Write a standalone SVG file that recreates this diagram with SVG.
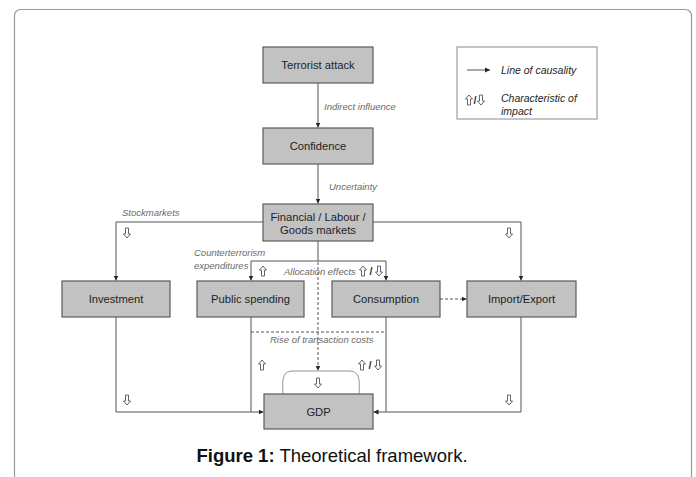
<svg xmlns="http://www.w3.org/2000/svg" width="696" height="477" viewBox="0 0 696 477">
<style>
.box{fill:#c2c2c2;stroke:#5a5a5a;stroke-width:1.2}
.lbl{font-family:"Liberation Sans",Arial,sans-serif;font-size:11.2px;fill:#1e1e1e;text-anchor:middle}
.it{font-family:"Liberation Sans",Arial,sans-serif;font-size:9.5px;font-style:italic;fill:#6a6a6a}
.lg{font-family:"Liberation Sans",Arial,sans-serif;font-size:10.5px;font-style:italic;fill:#1e1e1e}
.sl{font-family:"Liberation Sans",Arial,sans-serif;font-size:11px;font-weight:bold;fill:#333;text-anchor:middle}
.ln{fill:none;stroke:#555;stroke-width:1}
.dl{fill:none;stroke:#555;stroke-width:1;stroke-dasharray:3,2}
.ha{fill:#fff;stroke:#555;stroke-width:0.9;stroke-linejoin:round}
</style>
<defs>
<marker id="ah" markerWidth="6" markerHeight="6" refX="5" refY="3" orient="auto" markerUnits="userSpaceOnUse">
<path d="M0,0.5 L5,3 L0,5.5 Z" fill="#222"/>
</marker>
<path id="up" class="ha" d="M0,-5 L3.5,-1 L1.5,-1 L1.5,5 L-1.5,5 L-1.5,-1 L-3.5,-1 Z"/>
<path id="dn" class="ha" d="M0,5 L3.5,1 L1.5,1 L1.5,-5 L-1.5,-5 L-1.5,1 L-3.5,1 Z"/>
</defs>
<rect x="14.5" y="9.5" width="677" height="480" rx="6" fill="#fff" stroke="#9a9a9a" stroke-width="1.2"/>

<g id="connectors">
<path class="ln" d="M318,83 V127.5" marker-end="url(#ah)"/>
<path class="ln" d="M318,164 V203.5" marker-end="url(#ah)"/>
<path class="ln" d="M263,222 H116 V280.5" marker-end="url(#ah)"/>
<path class="ln" d="M373,222 H521 V280.5" marker-end="url(#ah)"/>
<path class="ln" d="M318,241 V261"/>
<path class="ln" d="M318,261 H251 V280.5" marker-end="url(#ah)"/>
<path class="ln" d="M318,261 H386 V280.5" marker-end="url(#ah)"/>
<path class="dl" d="M318,262 V370.5" marker-end="url(#ah)"/>
<path class="dl" d="M440,299 H466.5" marker-end="url(#ah)"/>
<path class="dl" d="M251,332 H386"/>
<path class="ln" d="M116,317 V412 H263.5" marker-end="url(#ah)"/>
<path class="ln" d="M251,317 V412"/>
<path class="ln" d="M521,317 V412 H373.5" marker-end="url(#ah)"/>
<path class="ln" d="M386,317 V412"/>
<path d="M283,394 Q282,380 284,376 Q286,371 293,371 H349 Q356,371 358,376 Q360,380 359,394" fill="none" stroke="#888" stroke-width="0.9"/>
</g>

<g id="terrorist-attack"><rect class="box" x="263" y="47" width="110" height="36"/><text class="lbl" x="318" y="69">Terrorist attack</text></g>
<g id="confidence"><rect class="box" x="263" y="128" width="110" height="36"/><text class="lbl" x="318" y="150">Confidence</text></g>
<g id="markets"><rect class="box" x="263" y="204" width="110" height="37"/><text class="lbl" x="318" y="221">Financial / Labour /</text><text class="lbl" x="318" y="234">Goods markets</text></g>
<g id="investment"><rect class="box" x="62" y="281" width="108" height="36"/><text class="lbl" x="116" y="303">Investment</text></g>
<g id="public-spending"><rect class="box" x="197" y="281" width="107" height="36"/><text class="lbl" x="250.5" y="303">Public spending</text></g>
<g id="consumption"><rect class="box" x="332" y="281" width="108" height="36"/><text class="lbl" x="386" y="303">Consumption</text></g>
<g id="import-export"><rect class="box" x="467" y="281" width="109" height="36"/><text class="lbl" x="521.5" y="303">Import/Export</text></g>
<g id="gdp"><rect class="box" x="264" y="394" width="109" height="35"/><text class="lbl" x="318.5" y="416">GDP</text></g>

<g id="labels">
<text class="it" x="324" y="109.5">Indirect influence</text>
<text class="it" x="329" y="190">Uncertainty</text>
<text class="it" x="122" y="216">Stockmarkets</text>
<text class="it" x="194" y="256">Counterterrorism</text>
<text class="it" x="194" y="269">expenditures</text>
<text class="it" x="284" y="274.5">Allocation effects</text>
<text class="it" x="270" y="342.5">Rise of transaction costs</text>
<use href="#dn" x="127" y="233"/>
<use href="#dn" x="509" y="233"/>
<use href="#up" x="263" y="271"/>
<use href="#up" x="363" y="271"/><text class="sl" x="371" y="275">/</text><use href="#dn" x="379" y="271"/>
<use href="#up" x="262" y="365"/>
<use href="#up" x="362" y="365"/><text class="sl" x="370" y="369">/</text><use href="#dn" x="378" y="365"/>
<use href="#dn" x="318" y="383"/>
<use href="#dn" x="127" y="400"/>
<use href="#dn" x="509" y="400"/>
</g>

<g id="legend">
<rect x="457" y="47" width="140" height="72" fill="#fff" stroke="#8a8a8a" stroke-width="1"/>
<path class="ln" d="M467,70 H490" stroke="#222" marker-end="url(#ah)"/>
<text class="lg" x="501" y="74">Line of causality</text>
<use href="#up" x="469" y="100"/><text class="sl" x="475" y="104">/</text><use href="#dn" x="481" y="100"/>
<text class="lg" x="501" y="102">Characteristic of</text>
<text class="lg" x="501" y="115">impact</text>
</g>

<text x="332" y="462" font-family="'Liberation Sans',Arial,sans-serif" font-size="18.5" fill="#111" text-anchor="middle"><tspan font-weight="bold">Figure 1:</tspan> Theoretical framework.</text>
</svg>
